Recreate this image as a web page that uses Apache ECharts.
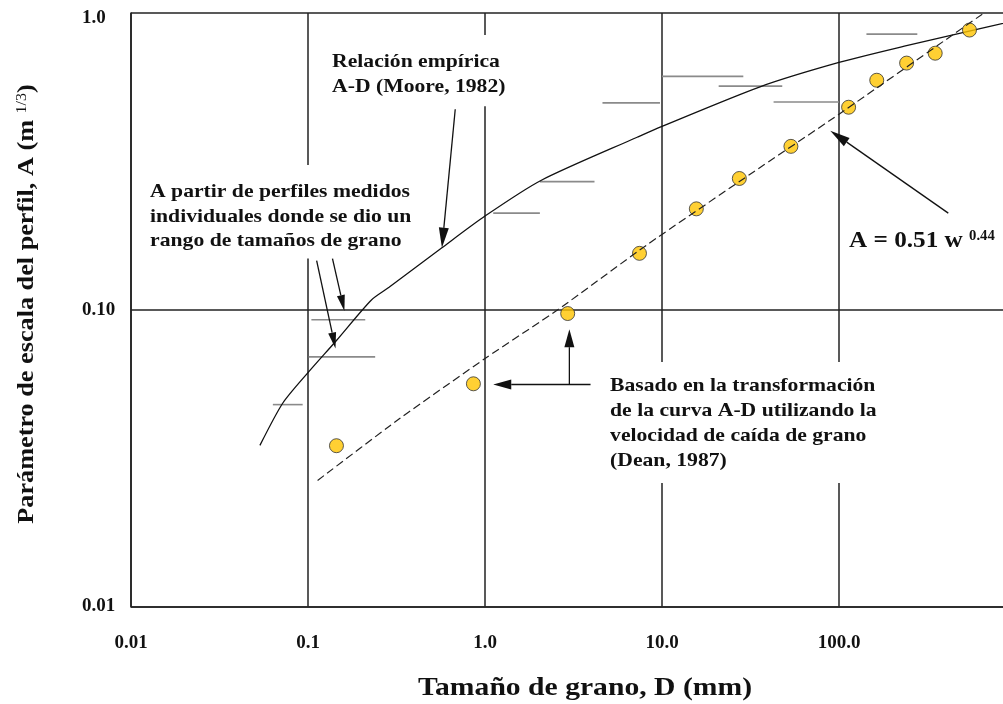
<!DOCTYPE html>
<html><head><meta charset="utf-8">
<script src="https://cdn.jsdelivr.net/npm/echarts@6/dist/echarts.min.js"></script>
<style>html,body{margin:0;padding:0;background:#fff}#c{width:1003px;height:704px}</style>
</head><body><div id="c"></div>
<script>
// ---------------- data ----------------
const xTickLabels = {'-2':'0.01','-1':'0.1','0':'1.0','1':'10.0','2':'100.0','3':''};
const yTickLabels = {'-2':'0.01','-1':'0.10','0':'1.0'};
// Empirical A-D relation (Moore, 1982)
const mooreD = [0.0535,0.0721,0.1,0.1448,0.2275,0.287,0.571,1.0,2.07,7.24,10,35.8,100,234,544,918];
const mooreA = [0.0349,0.0485,0.0614,0.0788,0.1077,0.119,0.1618,0.2069,0.2727,0.3814,0.415,0.5641,0.6813,0.773,0.869,0.933];
// A = 0.51 w^0.44 (dashed)
const fitD = [0.1133,0.3266,1.0,2.577,8.24,31.3,100,656];
const fitA = [0.02659,0.04281,0.06848,0.1,0.1656,0.2855,0.456,0.998];
// Dean (1987) points
const pointD = [0.1448,0.860,2.932,7.46,15.63,27.35,53.5,113.3,163.4,241,349.5,546];
const pointA = [0.03482,0.0563,0.0971,0.1549,0.2188,0.2769,0.3553,0.4813,0.5935,0.678,0.732,0.876];
// Individual profiles with a range of grain sizes
const rangeDmin = [0.0633,0.1009,0.1045,1.113,2.042,4.61,10,20.9,42.7,142.9];
const rangeDmax = [0.0933,0.2396,0.2106,2.042,4.156,9.74,28.8,47.8,100,277];
const rangeA    = [0.0479,0.0694,0.0925,0.2117,0.2703,0.4977,0.6117,0.5669,0.5012,0.849];

// ---------------- chart ----------------
const serif = '"Liberation Serif","Times New Roman",serif';
const SX = 1.14;
const chart = echarts.init(document.getElementById('c'), null, {renderer:'canvas'});

const option = {
  animation:false,
  backgroundColor:'#fff',
  grid:{left:131, top:13, width:885, height:593.5, containLabel:false, outerBoundsMode:'none'},
  xAxis:{type:'log', logBase:10, min:0.01, max:1000,
    axisLine:{show:true, onZero:false, lineStyle:{color:'#222', width:1.6}},
    axisTick:{show:false},
    splitLine:{show:true, lineStyle:{color:'#222', width:1.5}},
    axisLabel:{formatter:v=>{const k=xTickLabels[String(Math.round(Math.log10(v)))];return k===undefined?'':k;},
      fontFamily:serif, fontWeight:'bold', fontSize:19, color:'#111', margin:27, showMinLabel:true, showMaxLabel:true}
  },
  yAxis:{type:'log', logBase:10, min:0.01, max:1,
    axisLine:{show:true, onZero:false, lineStyle:{color:'#222', width:1.6}},
    axisTick:{show:false},
    splitLine:{show:true, lineStyle:{color:'#222', width:1.5}},
    axisLabel:{formatter:v=>{const e=Math.round(Math.log10(v));const k=yTickLabels[String(e)];if(k===undefined)return '';return e===0?'{t|'+k+'}':k;},
      fontFamily:serif, fontWeight:'bold', fontSize:19, color:'#111', margin:49, align:'left', showMinLabel:true, showMaxLabel:true,
      rich:{t:{fontFamily:serif, fontWeight:'bold', fontSize:19, color:'#111', padding:[10,0,0,0]}}}
  },
  series:[
    {type:'custom', name:'ranges', silent:true, z:2,
     encode:{x:[0,1], y:2},
     data: rangeA.map((a,i)=>[rangeDmin[i], rangeDmax[i], a]),
     renderItem:(params, api)=>{
       const p1=api.coord([api.value(0), api.value(2)]);
       const p2=api.coord([api.value(1), api.value(2)]);
       return {type:'line', shape:{x1:p1[0],y1:p1[1],x2:p2[0],y2:p2[1]}, style:{stroke:'#8a8a8a', lineWidth:1.6}};
     }},
    {type:'line', name:'Moore', smooth:0.25, symbol:'none', z:3,
     lineStyle:{color:'#111', width:1.3},
     data: mooreD.map((d,i)=>[d, mooreA[i]])},
    {type:'scatter', name:'Dean', symbol:'circle', symbolSize:14, z:4,
     itemStyle:{color:'#FFC400', borderColor:'#333', borderWidth:1},
     data: pointD.map((d,i)=>[d, pointA[i]])},
    {type:'line', name:'fit', smooth:0.2, symbol:'none', z:5,
     lineStyle:{color:'#222', width:1.2, type:[8,4]},
     data: fitD.map((d,i)=>[d, fitA[i]])}
  ]
};
chart.setOption(option);

// ---------------- annotations ----------------
const annotationArrows = [
  {from:[0.679,0.474],  to:[0.571,0.1618], len:20, w:10},
  {from:[0.1119,0.1464],to:[0.143,0.0741], len:16, w:8},
  {from:[0.1375,0.1487],to:[0.1606,0.099], len:16, w:8},
  {from:[3.947,0.05599],to:[1.113,0.05599],len:18, w:10},
  {from:[2.997,0.05599],to:[2.997,0.0860], len:18, w:10},
  {from:[414.4,0.2117], to:[89.3,0.4013],  len:20, w:10}
];
function px(d){ return chart.convertToPixel({gridIndex:0}, d); }
function arrow(o){
  const a=px(o.from), b=px(o.to);
  const dx=b[0]-a[0], dy=b[1]-a[1], L=Math.hypot(dx,dy), ux=dx/L, uy=dy/L;
  const bx=b[0]-ux*o.len, by=b[1]-uy*o.len;
  return [
    {type:'line', z:100, shape:{x1:a[0],y1:a[1],x2:bx,y2:by}, style:{stroke:'#111', lineWidth:1.3}},
    {type:'polygon', z:100, shape:{points:[[b[0],b[1]],[bx-uy*o.w/2, by+ux*o.w/2],[bx+uy*o.w/2, by-ux*o.w/2]]}, style:{fill:'#111'}}
  ];
}
const g = [];
annotationArrows.forEach(o=>g.push(...arrow(o)));
const tfont = 'bold 19px '+serif;
g.push(
  {type:'text', x:327.5, y:35, scaleX:SX, z:90,
   style:{text:'Relación empírica\nA-D (Moore, 1982)', font:tfont, fill:'#111', lineHeight:25.6, backgroundColor:'#fff', padding:[14,4,6,4]}},
  {type:'text', x:145.5, y:165, scaleX:SX, z:90,
   style:{text:'A partir de perfiles medidos\nindividuales donde se dio un\nrango de tamaños de grano', font:tfont, fill:'#111', lineHeight:24.5, backgroundColor:'#fff', padding:[15,4,5,4]}},
  {type:'text', x:605.5, y:362, scaleX:SX, z:90,
   style:{text:'Basado en la transformación\nde la curva A-D utilizando la\nvelocidad de caída de grano\n(Dean, 1987)', font:tfont, fill:'#111', lineHeight:25, backgroundColor:'#fff', padding:[12,4,9,4]}},
  {type:'text', x:849, y:241, scaleX:1.05, z:90,
   style:{text:'A = 0.51 w {s|0.44}', font:'bold 24px '+serif, fill:'#111', verticalAlign:'middle',
     rich:{s:{font:'bold 14px '+serif, fill:'#111', verticalAlign:'top', padding:[0,0,10,0]}}}},
  {type:'text', x:585, y:688, scaleX:SX, z:90,
   style:{text:'Tamaño de grano, D (mm)', font:'bold 26px '+serif, fill:'#111', align:'center', verticalAlign:'middle'}},
  {type:'text', x:27, y:304, rotation:Math.PI/2, scaleX:SX, z:90,
   style:{text:'Parámetro de escala del perfil, A (m {s|1/3})', font:'bold 23px '+serif, fill:'#111', align:'center', verticalAlign:'middle',
     rich:{s:{font:'14px '+serif, fill:'#111', verticalAlign:'top', padding:[0,0,8,0]}}}}
);
chart.setOption({graphic:g});
</script>
</body></html>
